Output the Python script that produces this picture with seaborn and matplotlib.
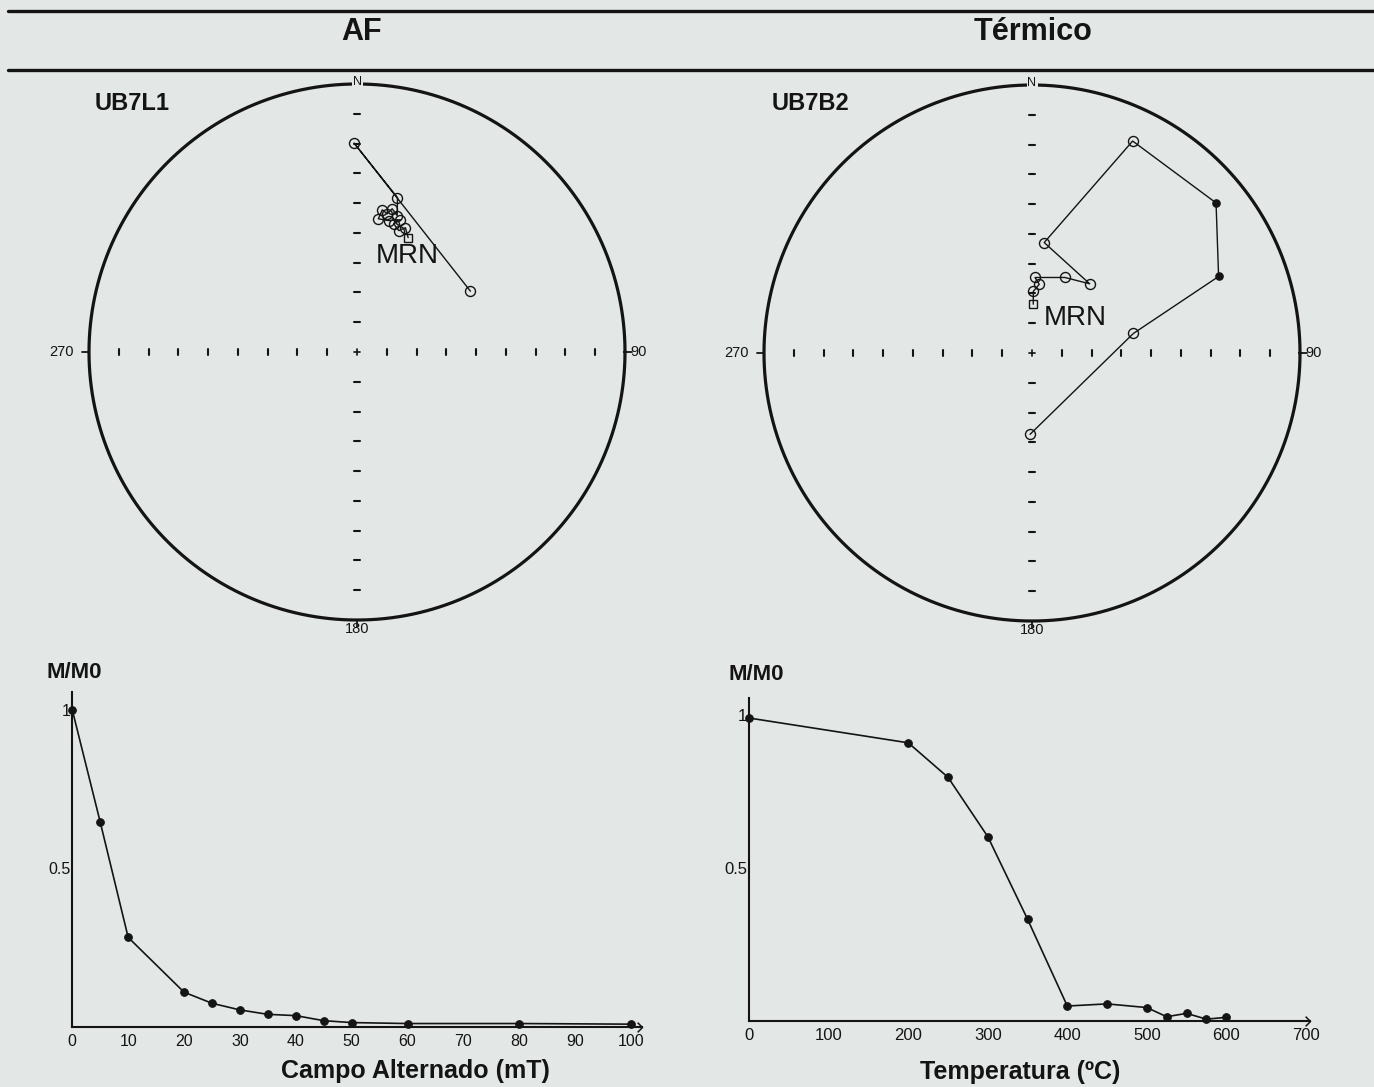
import numpy as np
import matplotlib
matplotlib.use("Agg")
import matplotlib.pyplot as plt
import seaborn as sns
from matplotlib.lines import Line2D
from matplotlib.path import Path
from matplotlib.ticker import MultipleLocator, FixedLocator, FixedFormatter

# ---------------------------------------------------------------
# Data
# ---------------------------------------------------------------
# AF demagnetisation of specimen UB7L1 (field in mT, normalised intensity)
af_field = [0, 5, 10, 20, 25, 30, 35, 40, 45, 50, 60, 80, 100]
af_mm0 = [1.0, 0.646, 0.282, 0.109, 0.074, 0.053, 0.039, 0.035, 0.019,
          0.013, 0.010, 0.010, 0.008]

# Thermal demagnetisation of specimen UB7B2 (temperature in C)
th_temp = [0, 200, 250, 300, 350, 400, 450, 500, 525, 550, 575, 600]
th_mm0 = [0.99, 0.909, 0.796, 0.602, 0.332, 0.048, 0.055, 0.043, 0.013,
          0.024, 0.005, 0.011]

# Directions along each demagnetisation path (first entry = NRM)
af_dec = [24.1, 21.3, 19.0, 16.0, 18.2, 13.6, 9.1, 10.1, 12.3, 13.8, 16.4,
          14.7, 359.2, 61.8]
af_inc = [-51.4, -48.8, -50.4, -48.8, -46.9, -48.2, -48.3, -45.2, -46.2,
          -44.2, -45.9, -40.2, -23.1, -50.3]

th_dec = [1.5, 1.2, 6.0, 2.3, 23.5, 39.8, 6.3, 25.4, 50.8, 67.7, 79.1, 181.4]
th_inc = [-75.2, -71.3, -69.0, -67.0, -64.9, -62.5, -55.9, -13.5, 12.4,
          25.7, -58.4, -65.2]

panel_titles = ["AF", "Térmico"]
specimens = ["UB7L1", "UB7B2"]
nrm_label = "MRN"
y_label = "M/M0"
x_labels = ["Campo Alternado (mT)", "Temperatura (ºC)"]

# ---------------------------------------------------------------
# Style
# ---------------------------------------------------------------
W, H, DPI = 1374, 1087, 100
PAPER = "#e3e7e5"
INK = "#141414"

sns.set_theme(style="white")
plt.rcParams["font.family"] = ["Liberation Sans", "DejaVu Sans"]
plt.rcParams["axes.facecolor"] = PAPER
NARROW = ["Liberation Sans Narrow", "Liberation Sans", "DejaVu Sans"]

fig = plt.figure(figsize=(W / DPI, H / DPI), dpi=DPI, facecolor=PAPER)


def px_rect(left, top, width, height):
    """Axes rectangle from pixel geometry (origin at the top-left)."""
    return [left / W, 1 - (top + height) / H, width / W, height / H]


# ---------------------------------------------------------------
# Header band
# ---------------------------------------------------------------
for y in (11, 70):
    fig.add_artist(Line2D([8 / W, 1.0], [1 - y / H] * 2, color=INK, lw=2.4,
                          transform=fig.transFigure))
fig.text(362 / W, 1 - 32 / H, panel_titles[0], ha="center", va="center",
         fontsize=22, fontweight="bold", color=INK)
fig.text(1033 / W, 1 - 32 / H, panel_titles[1], ha="center", va="center",
         fontsize=22, fontweight="bold", color=INK)


# ---------------------------------------------------------------
# Equal-area stereonets
# ---------------------------------------------------------------
NET_LIM = 1.12


def project(dec, inc):
    d = np.radians(np.asarray(dec, float))
    i = np.radians(np.abs(np.asarray(inc, float)))
    r = np.sqrt(2.0) * np.sin((np.pi / 2 - i) / 2)
    return r * np.sin(d), r * np.cos(d)


def draw_net(cx, cy, R, dec, inc, mrn_offset):
    ax = fig.add_axes(px_rect(cx - NET_LIM * R, cy - NET_LIM * R,
                              2 * NET_LIM * R, 2 * NET_LIM * R))
    ax.set_xlim(-NET_LIM, NET_LIM)
    ax.set_ylim(-NET_LIM, NET_LIM)
    ax.set_axis_off()
    ax.patch.set_alpha(0)

    t = np.linspace(0, 2 * np.pi, 721)
    ax.plot(np.cos(t), np.sin(t), color=INK, lw=2.3, solid_capstyle="round")

    # graduation marks along both diameters
    h = 2.6 / R
    for k in range(1, 9):
        for s in (-1, 1):
            f = s * k / 9
            ax.plot([f, f], [-h, h], color=INK, lw=1.5)
            ax.plot([-h * 1.2, h * 1.2], [f, f], color=INK, lw=1.5)
    ax.plot([-h, h], [0, 0], color=INK, lw=1.2)
    ax.plot([0, 0], [-h, h], color=INK, lw=1.2)

    # cardinal marks and labels
    o = 7 / R
    ax.plot([-1, -1 - o], [0, 0], color=INK, lw=1.3)
    ax.plot([1, 1 + o], [0, 0], color=INK, lw=1.3)
    ax.plot([0, 0], [-1, -1 - o], color=INK, lw=1.3)
    ax.annotate("N", (0, 1), xytext=(0, 1.5), textcoords="offset points",
                ha="center", va="center", fontsize=9, family=NARROW, color=INK,
                bbox=dict(boxstyle="square,pad=0.08", fc=PAPER, ec="none"))
    ax.annotate("270", (-1, 0), xytext=(-11, 0), textcoords="offset points",
                ha="right", va="center", fontsize=10.5, family=NARROW, color=INK)
    ax.annotate("90", (1, 0), xytext=(4, 0), textcoords="offset points",
                ha="left", va="center", fontsize=10.5, family=NARROW, color=INK)
    ax.annotate("180", (0, -1), xytext=(0, -1.5), textcoords="offset points",
                ha="center", va="top", fontsize=10.5, family=NARROW, color=INK)

    # demagnetisation path
    x, y = project(dec, inc)
    inc = np.asarray(inc)
    ax.plot(x, y, color=INK, lw=1.0, zorder=3)
    up = inc < 0
    up[0] = False
    ax.plot(x[up], y[up], ls="none", marker="o", ms=7.2, mfc="none",
            mec=INK, mew=1.0, zorder=4)
    down = inc >= 0
    ax.plot(x[down], y[down], ls="none", marker="o", ms=5.2, mfc=INK,
            mec=INK, mew=1.0, zorder=4)
    ax.plot(x[:1], y[:1], ls="none", marker="s", ms=6.0, mfc="none",
            mec=INK, mew=1.0, zorder=5)
    ax.annotate(nrm_label, (x[0], y[0]), xytext=mrn_offset,
                textcoords="offset points", ha="center", va="center",
                fontsize=20, color=INK, zorder=6)
    return ax


draw_net(357, 352, 268, af_dec, af_inc, (-1, -13.5))
draw_net(1032, 353, 268, th_dec, th_inc, (30, -10))

fig.text(95 / W, 1 - 103 / H, specimens[0], ha="left", va="center",
         fontsize=17, fontweight="bold", color=INK)
fig.text(772 / W, 1 - 103 / H, specimens[1], ha="left", va="center",
         fontsize=17, fontweight="bold", color=INK)


# ---------------------------------------------------------------
# Intensity decay curves
# ---------------------------------------------------------------
CHEVRON = Path([(-1, 1), (0, 0), (-1, -1)],
               [Path.MOVETO, Path.LINETO, Path.LINETO])


def decay_axes(ox, oy, xs, ys, xmax, ymax, xmajor, xminor, xlabel,
               xlabel_pos, tick_size):
    ax = fig.add_axes(px_rect(ox, oy - ymax * ys, xmax * xs, ymax * ys))
    ax.set_facecolor("none")
    ax.set_xlim(0, xmax)
    ax.set_ylim(0, ymax)
    for side in ("top", "right"):
        ax.spines[side].set_visible(False)
    for side in ("left", "bottom"):
        ax.spines[side].set_color(INK)
        ax.spines[side].set_linewidth(1.5)
    ax.xaxis.set_major_locator(MultipleLocator(xmajor))
    ax.xaxis.set_minor_locator(MultipleLocator(xminor))
    ax.yaxis.set_major_locator(FixedLocator([0.5, 1.0]))
    ax.yaxis.set_major_formatter(FixedFormatter(["0.5", "1"]))
    ax.yaxis.set_minor_locator(FixedLocator(np.arange(0.125, 1.0, 0.125)))
    ax.tick_params(which="both", direction="in", length=3.2, width=1.1,
                   color=INK, labelcolor=INK, labelsize=tick_size)
    ax.tick_params(axis="x", which="major", pad=5)
    ax.tick_params(axis="y", which="major", pad=1.5)
    for lab in ax.get_xticklabels() + ax.get_yticklabels():
        lab.set_family(NARROW)
    ax.plot([1], [0], transform=ax.transAxes, marker=CHEVRON, ms=7,
            mfc="none", mec=INK, mew=1.1, clip_on=False)
    ax.set_xlabel(xlabel, fontsize=18, fontweight="bold", color=INK)
    ax.xaxis.set_label_coords(*xlabel_pos)
    ax.xaxis.label.set_va("center")
    return ax


ax_af = decay_axes(72.3, 1026.7, 5.587, 316.7, 102, 1.058, 10, 5,
                   x_labels[0], (0.603, -0.132), 11.5)
sns.lineplot(x=af_field, y=af_mm0, ax=ax_af, color=INK, lw=1.2, marker="o",
             markersize=5.5, markeredgecolor=INK, markerfacecolor=INK,
             estimator=None, sort=False)

ax_th = decay_axes(749.3, 1020.7, 0.795, 305.7, 705, 1.055, 100, 50,
                   x_labels[1], (0.483, -0.158), 12)
sns.lineplot(x=th_temp, y=th_mm0, ax=ax_th, color=INK, lw=1.2, marker="o",
             markersize=5.5, markeredgecolor=INK, markerfacecolor=INK,
             estimator=None, sort=False)

for ax in (ax_af, ax_th):
    for ln in ax.lines:
        ln.set_clip_on(False)
    ax.set_ylabel("")

fig.text(46 / W, 1 - 673 / H, y_label, ha="left", va="center", fontsize=16,
         fontweight="bold", color=INK)
fig.text(728 / W, 1 - 674 / H, y_label, ha="left", va="center", fontsize=16,
         fontweight="bold", color=INK)

fig.savefig("out.png", dpi=DPI, facecolor=PAPER)
